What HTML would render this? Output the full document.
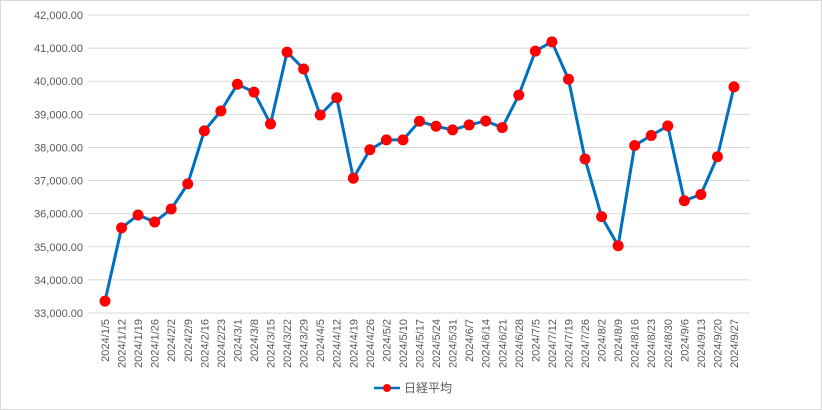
<!DOCTYPE html>
<html><head><meta charset="utf-8"><style>
html,body{margin:0;padding:0;background:#fff;}
svg{display:block;font-family:"Liberation Sans","Noto Sans CJK JP",sans-serif;}
</style></head><body>
<svg id="chart" width="822" height="410">
<rect x="0.5" y="0.5" width="821" height="409" fill="#fff" stroke="#d9d9d9"/>
<g id="grid"></g><g id="ylabels"></g><g id="xlabels"></g><g id="series"></g>
<g>
<line x1="374" y1="388" x2="400" y2="388" stroke="#0070c0" stroke-width="2.5"/>
<circle cx="387" cy="388" r="4" fill="#ff0000"/>
<text x="404" y="392" font-size="12" fill="#595959">日経平均</text>
</g>
</svg>
<script>
const categories=["2024/1/5","2024/1/12","2024/1/19","2024/1/26","2024/2/2","2024/2/9","2024/2/16","2024/2/23","2024/3/1","2024/3/8","2024/3/15","2024/3/22","2024/3/29","2024/4/5","2024/4/12","2024/4/19","2024/4/26","2024/5/2","2024/5/10","2024/5/17","2024/5/24","2024/5/31","2024/6/7","2024/6/14","2024/6/21","2024/6/28","2024/7/5","2024/7/12","2024/7/19","2024/7/26","2024/8/2","2024/8/9","2024/8/16","2024/8/23","2024/8/30","2024/9/6","2024/9/13","2024/9/20","2024/9/27"];
const values=[33360,35570,35960,35750,36140,36900,38500,39100,39910,39670,38710,40880,40370,38980,39500,37070,37930,38230,38230,38790,38640,38530,38680,38800,38600,39580,40910,41190,40060,37650,35910,35030,38060,38360,38650,36390,36580,37720,39830];
const yTicks=[33000,34000,35000,36000,37000,38000,39000,40000,41000,42000];
const NS="http://www.w3.org/2000/svg";
const yMin=33000,yMax=42000,plotTop=15,plotBottom=313,plotLeft=88,plotRight=750;
const xFirst=105,xLast=734;
function yScale(v){return plotBottom-(v-yMin)/(yMax-yMin)*(plotBottom-plotTop);}
function xScale(i){return xFirst+i*(xLast-xFirst)/(categories.length-1);}
function mk(tag,attrs,parent){const e=document.createElementNS(NS,tag);for(const k in attrs)e.setAttribute(k,attrs[k]);parent.appendChild(e);return e;}
const gGrid=document.getElementById('grid'),gYl=document.getElementById('ylabels'),gXl=document.getElementById('xlabels'),gSer=document.getElementById('series');
yTicks.forEach(t=>{
  const y=yScale(t);
  const l=mk('line',{x1:plotLeft,x2:plotRight,y1:y,y2:y,stroke:'#d9d9d9','stroke-width':1},gGrid);
  
  
  const tx=mk('text',{x:83,y:y+4,'text-anchor':'end','font-size':11,fill:'#595959'},gYl);
  tx.textContent=t.toLocaleString('en-US',{minimumFractionDigits:2});
  
  
});
categories.forEach((c,i)=>{
  const x=xScale(i);
  const tx=mk('text',{x:0,y:0,'text-anchor':'end','font-size':11,fill:'#595959',transform:`translate(${x+4},319) rotate(-90)`},gXl);
  tx.textContent=c;
  
  
});
const pts=values.map((v,i)=>xScale(i)+','+yScale(v)).join(' ');
const pl=mk('polyline',{points:pts,fill:'none',stroke:'#0070c0','stroke-width':3,'stroke-linejoin':'round'},gSer);


values.forEach((v,i)=>{
  const c=mk('circle',{cx:xScale(i),cy:yScale(v),r:5.5,fill:'#ff0000'},gSer);
  
  
});
</script>
</body></html>
